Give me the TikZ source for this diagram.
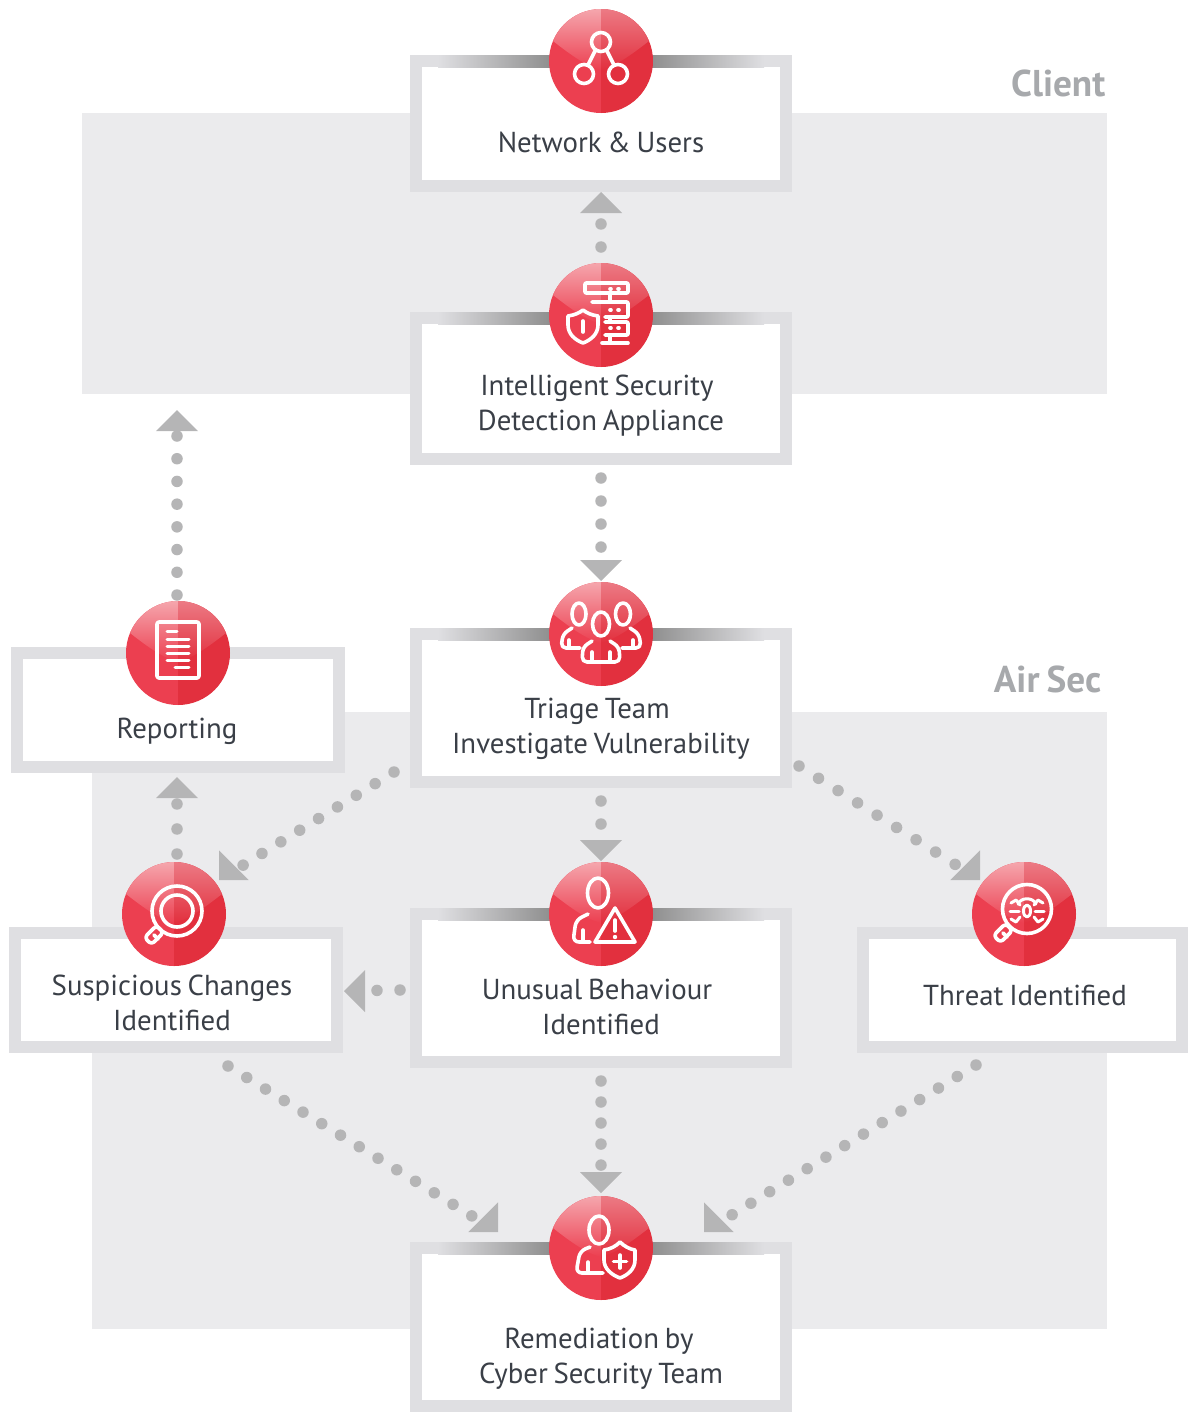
\documentclass[tikz,border=0pt]{standalone}
\usepackage{fontspec}
\setmainfont{PT Sans}[WordSpace=0.75]
\definecolor{panelgray}{HTML}{EBEBED}
\definecolor{boxgray}{HTML}{DFDFE2}
\definecolor{bardark}{HTML}{8F8F8F}
\definecolor{flowgray}{HTML}{B5B5B6}
\definecolor{titlegray}{HTML}{A7A9AC}
\definecolor{textdark}{HTML}{3A3F47}
\definecolor{redleft}{HTML}{EC3F50}
\definecolor{redright}{HTML}{E2303E}
\definecolor{pinkleft}{HTML}{F5A6AD}
\definecolor{pinkright}{HTML}{EC7A84}
\newcommand{\flowhead}[2]{\fill[flowgray,shift={(#1)},rotate=#2] (0,0) -- (-21,21) -- (21,21) -- cycle;}
\tikzset{
  flowbox/.style={draw=boxgray,line width=0.12cm,fill=white,inner sep=0pt,minimum width=3.7cm},
  boxlabel/.style={text=textdark,align=center,inner sep=0pt,font=\fontsize{8.2}{9.96}\selectfont},
  paneltitle/.style={text=titlegray,inner sep=0pt,anchor=east,font=\fontsize{10.6}{12}\selectfont\bfseries},
  flowdots/.style={draw=flowgray,line width=0.115cm,line cap=round,dash pattern=on 0pt off #1,shorten >=0.22cm},
  iconline/.style={draw=white,line width=0.036cm,line cap=round,line join=round},
  badge/.pic={
    \fill[redleft] (0,-52) arc (-90:-270:52) -- cycle;
    \fill[redright] (0,-52) arc (-90:90:52) -- cycle;
    \shade[top color=pinkleft,bottom color=redleft] (0,-52) arc (-90:-157.4:52) .. controls (-30,-6) and (-15,5) .. (0,9) -- cycle;
    \shade[top color=pinkright,bottom color=redright] (0,-52) arc (-90:-22.6:52) .. controls (30,-6) and (15,5) .. (0,9) -- cycle;
  },
  neticon/.pic={
    \draw[iconline] (0,-19) circle (9.5) (-17,13) circle (9.5) (17,13) circle (9.5);
    \draw[iconline] (-6,-10) -- (-13,4) (6,-10) -- (13,4);
  },
  isdicon/.pic={
    \draw[iconline,rounded corners=0.01cm] (-16,-32) rectangle (27,-22);
    \draw[iconline,rounded corners=0.01cm] (-9,-13) -- (27,-13) -- (27,2) -- (4,2);
    \draw[iconline,rounded corners=0.01cm] (4,7) -- (27,7) -- (27,20) -- (4,20);
    \draw[iconline] (9,-22) -- (9,-13) (9,2) -- (9,7) (9,20) -- (9,28) (1,28) -- (27,28);
    \draw[iconline] (-33,1) .. controls (-26,0) and (-22,-2) .. (-18,-5) .. controls (-14,-2) and (-10,0) .. (-3,1) -- (-3,10) .. controls (-3,19) and (-10,25) .. (-18,28) .. controls (-26,25) and (-33,19) .. (-33,10) -- cycle;
    \draw[iconline] (-18,6) -- (-18,17);
    \foreach \y in {-26,-5,13} \draw[iconline] (9,\y) -- (10,\y) (17,\y) -- (18,\y);
  },
  triageicon/.pic={
    \draw[iconline] (-22,-20) ellipse (7 and 11) (0,-10) ellipse (8.5 and 12) (22,-20) ellipse (7.5 and 11);
    \draw[iconline,rounded corners=0.05cm] (-29,-6) -- (-38,0) -- (-40,14) -- (-21,14);
    \draw[iconline,rounded corners=0.05cm] (29,-6) -- (38,0) -- (40,14) -- (21,14);
    \draw[iconline,rounded corners=0.05cm] (-9,7) -- (-18,13) -- (-19,28) -- (19,28) -- (18,13) -- (9,7);
    \draw[iconline] (-32,6) -- (-32,14) (32,6) -- (32,14) (-9,18) -- (-9,28) (9,18) -- (9,28);
  },
  reporticon/.pic={
    \draw[iconline,rounded corners=0.02cm] (-21,-31) rectangle (21,25);
    \draw[iconline,line width=0.03cm] (-11,-22) -- (-1,-22);
    \foreach \y in {-14,-7,0,7} \draw[iconline,line width=0.03cm] (-11,\y) -- (11,\y);
    \draw[iconline,line width=0.03cm] (-3,14) -- (11,14);
  },
  searchicon/.pic={
    \draw[iconline] (3,-3) circle (25) (3,-3) circle (16);
    \draw[iconline,rounded corners=0.035cm] (-10.5,18.5) -- (-22.5,30.5) -- (-29.5,23.5) -- (-17.5,11.5) -- cycle;
    \draw[iconline] (-20,21) -- (-16,25);
  },
  unusualicon/.pic={
    \draw[iconline] (-3,-21) ellipse (10.5 and 15);
    \draw[iconline,rounded corners=0.06cm] (-13,0) -- (-25,6) -- (-28,28) -- (-11,28);
    \draw[iconline] (-18,16) -- (-18,28);
    \draw[iconline] (14,-6) -- (-6,28) -- (34,28) -- cycle;
    \draw[iconline] (14,6) -- (14,17);
    \fill[white] (14,23) circle (2.2);
  },
  threaticon/.pic={
    \draw[iconline] (3,-5) circle (24.5);
    \draw[iconline,rounded corners=0.035cm] (-11.5,16.5) -- (-23.5,28.5) -- (-30.5,21.5) -- (-18.5,9.5) -- cycle;
    \draw[iconline] (-21,19) -- (-17,23);
    \draw[iconline,line width=0.03cm] (3,-3) ellipse (3.5 and 6);
    \draw[iconline,line width=0.03cm] (-6,-10) .. controls (-3,-17) and (9,-17) .. (12,-10);
    \foreach \s in {-1,1} {
      \draw[iconline,line width=0.03cm] ({3+\s*7},-9) -- ({3+\s*11},-14) -- ({3+\s*16},-11);
      \draw[iconline,line width=0.03cm] ({3+\s*8},-3) -- ({3+\s*17},-3);
      \draw[iconline,line width=0.03cm] ({3+\s*7},3) -- ({3+\s*11},8) -- ({3+\s*16},5);
    }
  },
  remedyicon/.pic={
    \draw[iconline] (-2,-18) ellipse (10 and 14);
    \draw[iconline,rounded corners=0.06cm] (-11,-1) -- (-21,3) -- (-25,25) -- (2,25);
    \draw[iconline] (-13,14) -- (-13,25);
    \draw[iconline] (3,2) .. controls (10,1) and (15,-2) .. (19,-6) .. controls (23,-2) and (28,1) .. (34,2) -- (34,12) .. controls (34,21) and (27,27) .. (19,30) .. controls (11,27) and (3,21) .. (3,12) -- cycle;
    \draw[iconline] (19,7) -- (19,20) (12.5,13.5) -- (25.5,13.5);
  },
}
\begin{document}
\begin{tikzpicture}[x=0.01cm,y=-0.01cm]
\useasboundingbox (0,0) rectangle (1188,1412);

%Client and Air Sec panels
\fill[panelgray] (82,113) rectangle (1107,394);
\fill[panelgray] (92,712) rectangle (1107,1329);
\node[paneltitle] (clienttitle) at (1106,83) {Client};
\node[paneltitle] (airsectitle) at (1102,679) {Air Sec};

%Boxes
\node[flowbox,minimum height=1.25cm] (netbox) at (601,123.5) {};
\node[flowbox,minimum height=1.41cm] (isdbox) at (601,388.5) {};
\node[flowbox,minimum height=1.48cm] (triagebox) at (601,708) {};
\node[flowbox,minimum height=1.48cm] (unusualbox) at (601,988) {};
\node[flowbox,minimum height=1.58cm] (remedybox) at (601,1327) {};
\node[flowbox,minimum width=3.22cm,minimum height=1.14cm] (reportbox) at (178,710) {};
\node[flowbox,minimum width=3.22cm,minimum height=1.14cm] (suspectbox) at (176,990) {};
\node[flowbox,minimum width=3.19cm,minimum height=1.14cm] (threatbox) at (1022.5,990) {};

%Dark bars on the top edge of the middle boxes
\foreach \y in {55,312,628,908,1242} {
\shade[left color=boxgray,right color=bardark] (438,\y) rectangle (550,\y+12);
\shade[left color=bardark,right color=boxgray] (652,\y) rectangle (764,\y+12);
}

%Box labels
\node[boxlabel] (netlabel) at (601,142) {Network \& Users};
\node[boxlabel] (isdlabel) at (601,406) {Intelligent Security\kern2.3pt\\Detection Appliance};
\node[boxlabel] (triagelabel) at (601,729) {Triage Team\kern2.3pt\\Investigate Vulnerability};
\node[boxlabel] (unusuallabel) at (601,1007) {Unusual Behaviour\kern2.3pt\\Identified};
\node[boxlabel] (remedylabel) at (601,1359) {Remediation by\kern1.2pt\\Cyber Security Team};
\node[boxlabel] (reportlabel) at (177,731) {Reporting};
\node[boxlabel] (suspectlabel) at (172,1003) {Suspicious Changes\\Identified};
\node[boxlabel] (threatlabel) at (1025,995) {Threat Identified};

%Ends of the connectors
\coordinate (isdup) at (601,247);
\coordinate (nettip) at (601,192);
\coordinate (isddown) at (601,478);
\coordinate (triagetip) at (601,581);
\coordinate (triagedown) at (601,801);
\coordinate (unusualtip) at (601,861);
\coordinate (unusualdown) at (601,1081);
\coordinate (remedytip) at (601,1193);
\coordinate (reportup) at (177,595);
\coordinate (clienttip) at (177,410);
\coordinate (suspectup) at (177,854);
\coordinate (reporttip) at (177,777);
\coordinate (triageleft) at (394,772);
\coordinate (suspecttip) at (219,880);
\coordinate (triageright) at (799,766);
\coordinate (threattip) at (980,880);
\coordinate (unusualleft) at (400,990);
\coordinate (suspectside) at (344,991);
\coordinate (suspectdown) at (228,1066);
\coordinate (remedylefttip) at (498,1232);
\coordinate (threatdown) at (976,1065);
\coordinate (remedyrighttip) at (704,1232);

%Dotted connectors
\draw[flowdots=0.23cm] (isdup) -- (nettip);
\draw[flowdots=0.23cm] (isddown) -- (triagetip);
\draw[flowdots=0.23cm] (triagedown) -- (unusualtip);
\draw[flowdots=0.21cm] (unusualdown) -- (remedytip);
\draw[flowdots=0.227cm] (reportup) -- (clienttip);
\draw[flowdots=0.25cm] (suspectup) -- (reporttip);
\draw[flowdots=0.2215cm] (triageleft) -- (suspecttip);
\draw[flowdots=0.2305cm] (triageright) -- (threattip);
\draw[flowdots=0.23cm] (unusualleft) -- (suspectside);
\draw[flowdots=0.22cm] (suspectdown) -- (remedylefttip);
\draw[flowdots=0.22cm] (threatdown) -- (remedyrighttip);

%Arrow heads
\flowhead{nettip}{0}
\flowhead{triagetip}{180}
\flowhead{unusualtip}{180}
\flowhead{remedytip}{180}
\flowhead{clienttip}{0}
\flowhead{reporttip}{0}
\flowhead{suspecttip}{135}
\flowhead{threattip}{225}
\flowhead{suspectside}{90}
\flowhead{remedylefttip}{225}
\flowhead{remedyrighttip}{135}

%Red badges with their icons
\pic (netbadge) at (601,61) {badge};
\pic (neticon) at (601,61) {neticon};
\pic (isdbadge) at (601,315) {badge};
\pic (isdicon) at (601,315) {isdicon};
\pic (triagebadge) at (601,634) {badge};
\pic (triageicon) at (601,634) {triageicon};
\pic (reportbadge) at (178,653) {badge};
\pic (reporticon) at (178,653) {reporticon};
\pic (suspectbadge) at (174,914) {badge};
\pic (suspecticon) at (174,914) {searchicon};
\pic (unusualbadge) at (601,914) {badge};
\pic (unusualicon) at (601,914) {unusualicon};
\pic (threatbadge) at (1024,914) {badge};
\pic (threaticon) at (1024,914) {threaticon};
\pic (remedybadge) at (601,1248) {badge};
\pic (remedyicon) at (601,1248) {remedyicon};
\end{tikzpicture}
\end{document}
